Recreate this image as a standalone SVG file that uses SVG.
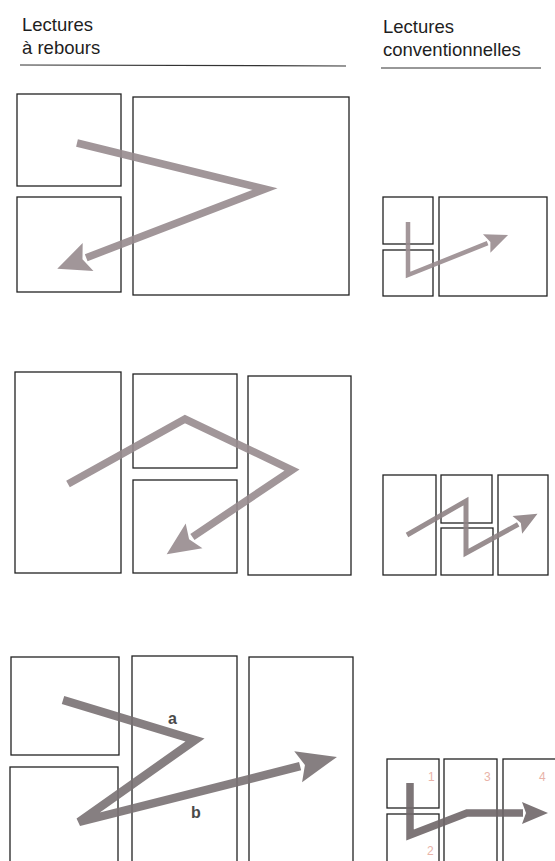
<svg xmlns="http://www.w3.org/2000/svg" width="555" height="861" viewBox="0 0 555 861">
<style>
.hd{font-family:"Liberation Sans",Arial,sans-serif;font-size:18.5px;fill:#1e1e1e}
.rule{stroke:#333;stroke-width:1.2}
.box{fill:none;stroke:#222;stroke-width:1.3}
.arr{fill:none;stroke-linejoin:miter;stroke-miterlimit:6;stroke-linecap:butt}
.lbl{font-family:"Liberation Sans",Arial,sans-serif;font-size:16px;font-weight:bold;fill:#4a4a4a}
.num{font-family:"Liberation Sans",Arial,sans-serif;font-size:12px;fill:#e9b3a8}
</style>
<defs>
<marker id="mA" markerUnits="userSpaceOnUse" orient="auto" refX="0" refY="0" markerWidth="60" markerHeight="60" overflow="visible"><path d="M-2,-15 L31,0 L-2,15 L4,0 z" fill="#978b8f"/></marker>
<marker id="mB" markerUnits="userSpaceOnUse" orient="auto" refX="0" refY="0" markerWidth="60" markerHeight="60" overflow="visible"><path d="M-2,-16 L38,0 L-2,16 L5,0 z" fill="#7a7274"/></marker>
<marker id="mC" markerUnits="userSpaceOnUse" orient="auto" refX="0" refY="0" markerWidth="40" markerHeight="40" overflow="visible"><path d="M-1,-10 L22,0 L-1,10 L3,0 z" fill="#9a8c90"/></marker>
<marker id="mD" markerUnits="userSpaceOnUse" orient="auto" refX="0" refY="0" markerWidth="40" markerHeight="40" overflow="visible"><path d="M-1,-10 L22,0 L-1,10 L3,0 z" fill="#8e8285"/></marker>
<marker id="mE" markerUnits="userSpaceOnUse" orient="auto" refX="0" refY="0" markerWidth="40" markerHeight="40" overflow="visible"><path d="M-1,-11 L25,0 L-1,11 L3,0 z" fill="#6f6769"/></marker>
</defs>
<rect width="555" height="861" fill="#ffffff"/>
<g id="headers">
<text class="hd" x="22" y="31">Lectures</text>
<text class="hd" x="22" y="54">à rebours</text>
<line class="rule" x1="20" y1="65" x2="346" y2="66"/>
<text class="hd" x="383" y="33">Lectures</text>
<text class="hd" x="383" y="56">conventionnelles</text>
<line class="rule" x1="381" y1="68" x2="541" y2="68"/>
</g>
<g id="set1-left">
<rect class="box" x="17" y="94" width="104" height="92"/>
<rect class="box" x="17" y="197" width="104" height="95"/>
<rect class="box" x="133" y="97" width="216" height="198"/>
</g>
<g id="set1-right">
<rect class="box" x="383" y="197" width="50" height="47"/>
<rect class="box" x="383" y="250" width="50" height="46"/>
<rect class="box" x="439" y="197" width="108" height="99"/>
</g>
<g id="set2-left">
<rect class="box" x="15" y="372" width="106" height="201"/>
<rect class="box" x="133" y="374" width="104" height="94"/>
<rect class="box" x="133" y="480" width="104" height="93"/>
<rect class="box" x="248" y="376" width="103" height="199"/>
</g>
<g id="set2-right">
<rect class="box" x="383" y="475" width="53" height="100"/>
<rect class="box" x="441" y="475" width="51" height="48"/>
<rect class="box" x="441" y="528" width="52" height="47"/>
<rect class="box" x="498" y="475" width="50" height="100"/>
</g>
<g id="set3-left">
<rect class="box" x="11" y="657" width="108" height="98"/>
<rect class="box" x="10" y="767" width="108" height="100"/>
<rect class="box" x="132" y="656" width="105" height="211"/>
<rect class="box" x="249" y="657" width="104" height="210"/>
</g>
<g id="set3-right">
<rect class="box" x="387" y="759" width="52" height="49"/>
<rect class="box" x="387" y="814" width="52" height="53"/>
<rect class="box" x="444" y="759" width="53" height="108"/>
<rect class="box" x="503" y="759" width="55" height="108"/>
<text class="num" x="428" y="781">1</text>
<text class="num" x="427" y="855">2</text>
<text class="num" x="484" y="781">3</text>
<text class="num" x="539" y="781">4</text>
</g>
<g id="connectors" opacity="0.9">
<polyline class="arr" stroke="#978b8f" stroke-width="7.5" points="77,143 265,189 86.2,257.7" marker-end="url(#mA)"/>
<polyline class="arr" stroke="#978b8f" stroke-width="7.5" points="68,484 185,419 292,470 192.4,537" marker-end="url(#mA)"/>
<polyline class="arr" stroke="#7a7274" stroke-width="8.5" style="stroke-miterlimit:4" points="63,700 195,740 79,822 300.1,766.2" marker-end="url(#mB)"/>
<polyline class="arr" stroke="#9a8c90" stroke-width="4.5" points="408,222 408,275 487.6,243.2" marker-end="url(#mC)"/>
<polyline class="arr" stroke="#8e8285" stroke-width="5" points="407,535 466,501 466,553 518.2,524.4" marker-end="url(#mD)"/>
<polyline class="arr" stroke="#6f6769" stroke-width="7.5" points="410,783 410,835 467,813 523,813" marker-end="url(#mE)"/>
</g>
<g id="labels">
<text class="lbl" x="168" y="724">a</text>
<text class="lbl" x="191" y="818">b</text>
</g>
</svg>
